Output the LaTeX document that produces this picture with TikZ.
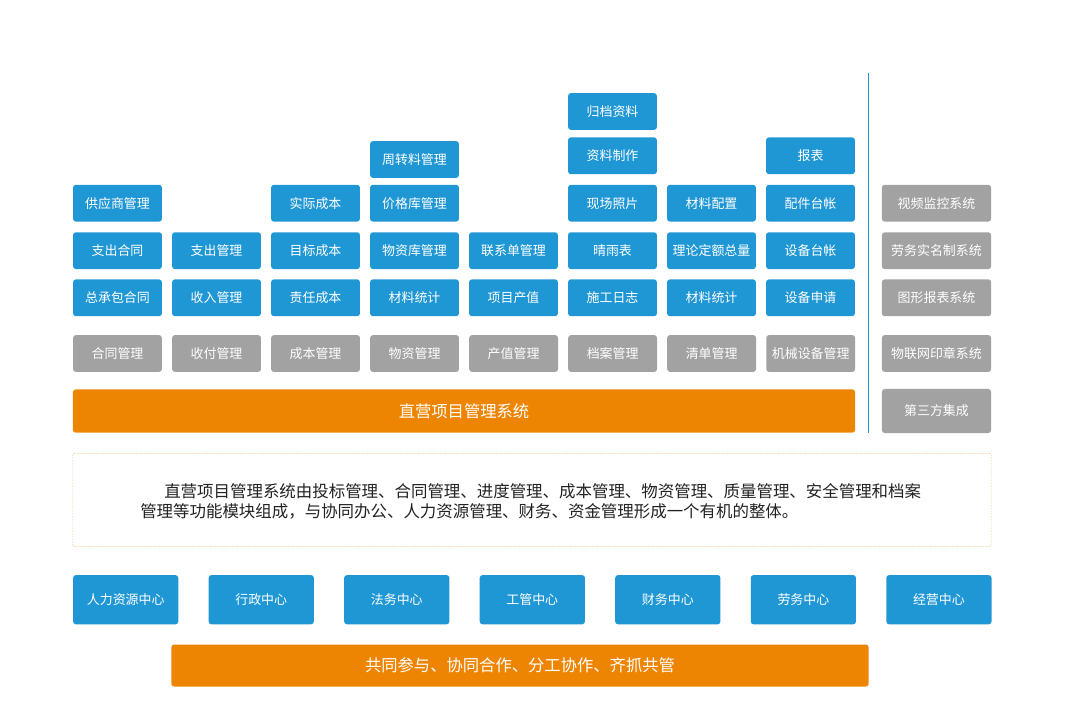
\documentclass[tikz,border=0pt]{standalone}
\usepackage{fontspec}
\setmainfont{Noto Sans CJK SC}
\usepackage{tikz}

\definecolor{boxblue}{HTML}{2097D5}
\definecolor{boxgrey}{HTML}{A2A2A2}
\definecolor{boxorange}{HTML}{EE8502}
\definecolor{boxline}{HTML}{F2C894}
\definecolor{bodytext}{HTML}{222222}

\begin{document}
\begin{tikzpicture}[x=0.025cm, y=-0.025cm, node distance=2.475cm, font=\fontsize{9.2}{11}\selectfont]

    \tikzstyle{blue box}=[fill=boxblue, text=white, rounded corners=2pt, minimum width=2.22cm, minimum height=0.92cm, inner sep=0pt]
    \tikzstyle{grey box}=[blue box, fill=boxgrey]
    \tikzstyle{side box}=[grey box, minimum width=2.73cm]
    \tikzstyle{center box}=[blue box, minimum width=2.63cm, minimum height=1.23cm]
    \tikzstyle{bar}=[fill=boxorange, text=white, rounded corners=2pt, minimum height=1.08cm, inner sep=0pt, font=\fontsize{11.6}{13}\selectfont]

    \useasboundingbox (0,0) rectangle (1080,717);

    % module row
    \node[grey box] (g1) at (117.5,353.5) {合同管理};
    \node[grey box] (g2) [right of=g1] {收付管理};
    \node[grey box] (g3) [right of=g2] {成本管理};
    \node[grey box] (g4) [right of=g3] {物资管理};
    \node[grey box] (g5) [right of=g4] {产值管理};
    \node[grey box] (g6) [right of=g5] {档案管理};
    \node[grey box] (g7) [right of=g6] {清单管理};
    \node[grey box] (g8) [right of=g7] {机械设备管理};

    % functions above each module
    \node[blue box] (a1) at (117.5,297.8) {总承包合同};
    \node[blue box] (b1) at (117.5,250.7) {支出合同};
    \node[blue box] (c1) at (117.5,203.2) {供应商管理};

    \node[blue box] (a2) at (216.5,297.8) {收入管理};
    \node[blue box] (b2) at (216.5,250.7) {支出管理};

    \node[blue box] (a3) at (315.5,297.8) {责任成本};
    \node[blue box] (b3) at (315.5,250.7) {目标成本};
    \node[blue box] (c3) at (315.5,203.2) {实际成本};

    \node[blue box] (a4) at (414.5,297.8) {材料统计};
    \node[blue box] (b4) at (414.5,250.7) {物资库管理};
    \node[blue box] (c4) at (414.5,203.2) {价格库管理};
    \node[blue box] (d4) at (414.5,159.5) {周转料管理};

    \node[blue box] (a5) at (513.5,297.8) {项目产值};
    \node[blue box] (b5) at (513.5,250.7) {联系单管理};

    \node[blue box] (a6) at (612.5,297.8) {施工日志};
    \node[blue box] (b6) at (612.5,250.7) {晴雨表};
    \node[blue box] (c6) at (612.5,203.2) {现场照片};
    \node[blue box] (d6) at (612.5,155.8) {资料制作};
    \node[blue box] (e6) at (612.5,111.5) {归档资料};

    \node[blue box] (a7) at (711.5,297.8) {材料统计};
    \node[blue box] (b7) at (711.5,250.7) {理论定额总量};
    \node[blue box] (c7) at (711.5,203.2) {材料配置};

    \node[blue box] (a8) at (810.5,297.8) {设备申请};
    \node[blue box] (b8) at (810.5,250.7) {设备台帐};
    \node[blue box] (c8) at (810.5,203.2) {配件台帐};
    \node[blue box] (d8) at (810.5,155.8) {报表};

    \node[bar, minimum width=19.55cm] (sys) at (464,411) {直营项目管理系统};

    % third party
    \coordinate (top) at (868.3,73);
    \coordinate (bot) at (868.3,433);
    \draw[boxblue, line width=0.6pt] (top) -- (bot);

    \node[side box] (s1) at (936.5,203.2) {视频监控系统};
    \node[side box] (s2) at (936.5,250.7) {劳务实名制系统};
    \node[side box] (s3) at (936.5,297.8) {图形报表系统};
    \node[side box] (s4) at (936.5,353.5) {物联网印章系统};
    \node[side box, minimum height=1.1cm] (s5) at (936.5,411) {第三方集成};

    % description
    \node[draw=boxline, dash pattern=on 1.2pt off 0.8pt, line width=0.5pt, rounded corners=1pt, minimum width=22.95cm, minimum height=2.33cm] (desc) at (532,500) {};
    \node[anchor=west, align=left, text=bodytext, inner sep=0pt, font=\fontsize{11.7}{13.8}\selectfont] (txt) at (140,501.4)
        {\hspace*{0.6cm}直营项目管理系统由投标管理、合同管理、进度管理、成本管理、物资管理、质量管理、安全管理和档案\\管理等功能模块组成，与协同办公、人力资源管理、财务、资金管理形成一个有机的整体。};

    % centres
    \begin{scope}[node distance=3.3875cm]
    \node[center box] (m1) at (125.7,599.7) {人力资源中心};
    \node[center box] (m2) [right of=m1] {行政中心};
    \node[center box] (m3) [right of=m2] {法务中心};
    \node[center box] (m4) [right of=m3] {工管中心};
    \node[center box] (m5) [right of=m4] {财务中心};
    \node[center box] (m6) [right of=m5] {劳务中心};
    \node[center box] (m7) [right of=m6] {经营中心};
    \end{scope}

    \node[bar, minimum width=17.43cm, minimum height=1.05cm] (goal) at (520,665.5) {共同参与、协同合作、分工协作、齐抓共管};

\end{tikzpicture}
\end{document}
